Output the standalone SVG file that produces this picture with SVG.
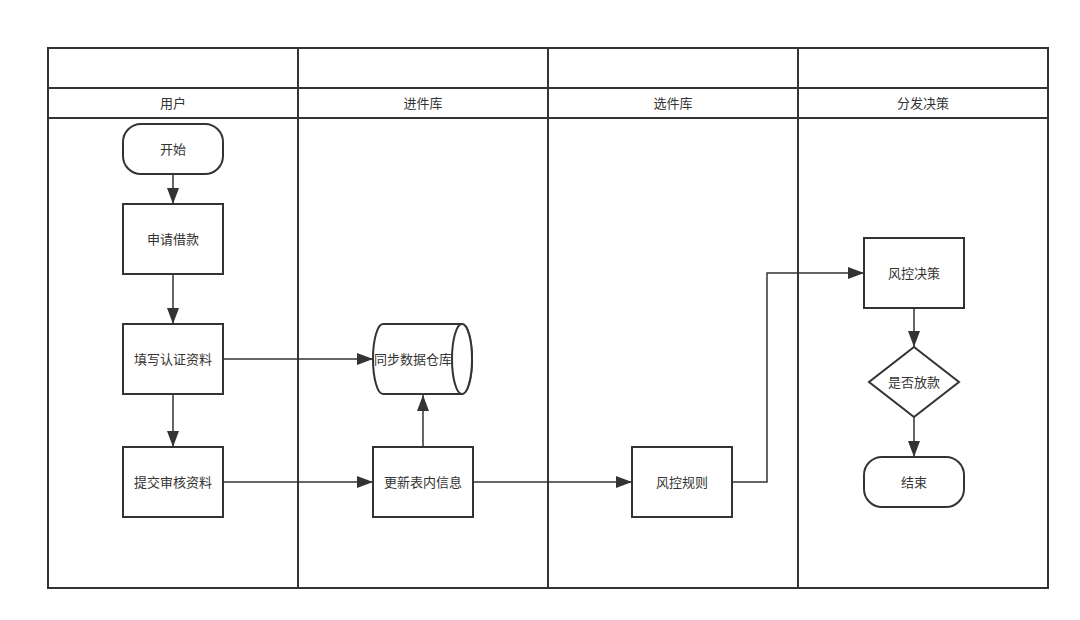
<svg xmlns="http://www.w3.org/2000/svg" width="1080" height="620" viewBox="0 0 1080 620">
<defs>
<marker id="arr" markerUnits="userSpaceOnUse" markerWidth="18" markerHeight="12" refX="16" refY="6" orient="auto">
<path d="M0,0 L16,6 L0,12 Z" fill="#333"/>
</marker>
<style>
.s{fill:#fff;stroke:#333;stroke-width:2}
.l{fill:none;stroke:#333;stroke-width:2}
.c{fill:none;stroke:#333;stroke-width:1.5;marker-end:url(#arr)}
text{font-family:"Liberation Sans","Noto Sans CJK SC",sans-serif;font-size:13px;fill:#333;text-anchor:middle;dominant-baseline:central}
</style>
</defs>
<rect width="1080" height="620" fill="#fff"/>
<g id="pool">
<rect x="48" y="48" width="1000" height="540" class="l"/>
<line x1="48" y1="88" x2="1048" y2="88" class="l"/>
<line x1="48" y1="118" x2="1048" y2="118" class="l"/>
<line x1="298" y1="48" x2="298" y2="588" class="l"/>
<line x1="548" y1="48" x2="548" y2="588" class="l"/>
<line x1="798" y1="48" x2="798" y2="588" class="l"/>
<text x="173" y="103">用户</text>
<text x="423" y="103">进件库</text>
<text x="673" y="103">选件库</text>
<text x="923" y="103">分发决策</text>
</g>
<g id="connectors">
<line x1="173" y1="174" x2="173" y2="204" class="c"/>
<line x1="173" y1="274" x2="173" y2="324" class="c"/>
<line x1="173" y1="394" x2="173" y2="447" class="c"/>
<line x1="223" y1="359" x2="373" y2="359" class="c"/>
<line x1="223" y1="482" x2="373" y2="482" class="c"/>
<line x1="423" y1="447" x2="423" y2="395" class="c"/>
<line x1="473" y1="482" x2="632" y2="482" class="c"/>
<polyline points="732,482 767,482 767,273 864,273" class="c"/>
<line x1="914" y1="308" x2="914" y2="347" class="c"/>
<line x1="914" y1="417" x2="914" y2="457" class="c"/>
</g>
<g id="start"><rect x="123" y="124" width="100" height="50" rx="18" class="s"/><text x="173" y="149">开始</text></g>
<g id="apply"><rect x="123" y="204" width="100" height="70" class="s"/><text x="173" y="239">申请借款</text></g>
<g id="fill"><rect x="123" y="324" width="100" height="70" class="s"/><text x="173" y="359">填写认证资料</text></g>
<g id="submit"><rect x="123" y="447" width="100" height="70" class="s"/><text x="173" y="482">提交审核资料</text></g>
<g id="sync"><path d="M383,324 L462,324 A10,35 0 0 1 462,394 L383,394 A10,35 0 0 1 383,324 Z" class="s"/><ellipse cx="462" cy="359" rx="10" ry="35" class="s"/><text x="413" y="359">同步数据仓库</text></g>
<g id="update"><rect x="373" y="447" width="100" height="70" class="s"/><text x="423" y="482">更新表内信息</text></g>
<g id="rule"><rect x="632" y="447" width="100" height="70" class="s"/><text x="682" y="482">风控规则</text></g>
<g id="decision"><rect x="864" y="238" width="100" height="70" class="s"/><text x="914" y="273">风控决策</text></g>
<g id="loan"><polygon points="914,347 959,382 914,417 869,382" class="s"/><text x="914" y="382">是否放款</text></g>
<g id="end"><rect x="864" y="457" width="100" height="50" rx="18" class="s"/><text x="914" y="482">结束</text></g>
</svg>
